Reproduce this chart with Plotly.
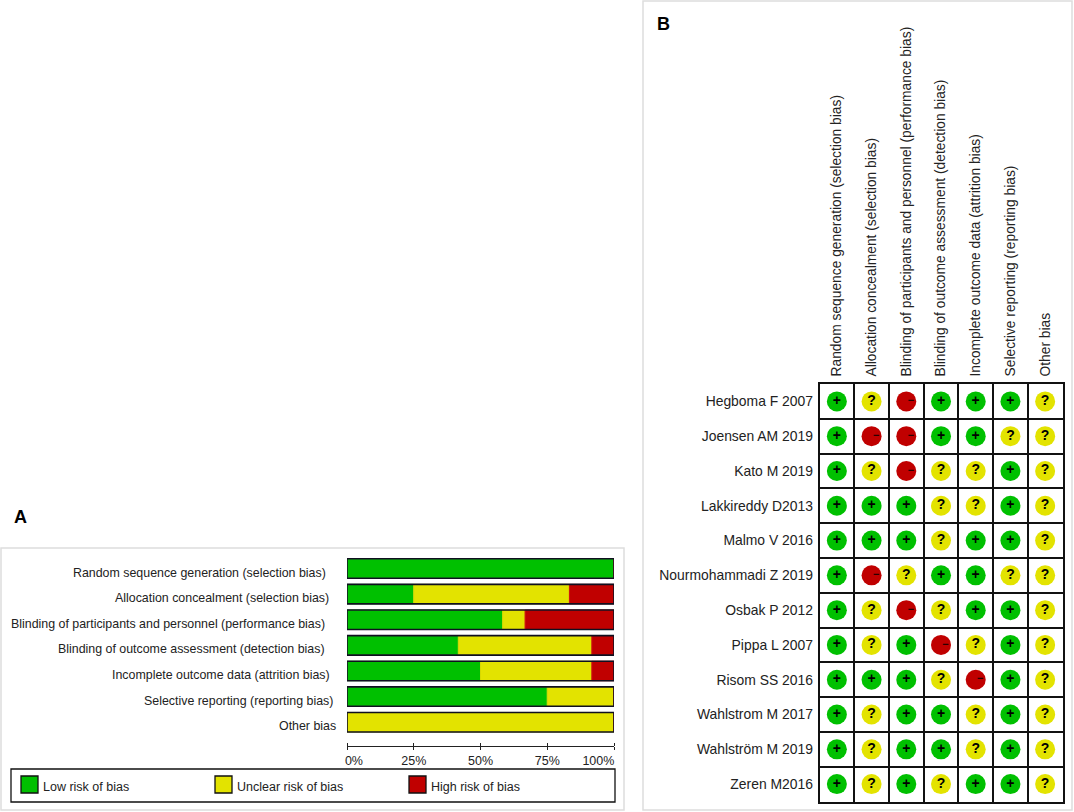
import plotly.graph_objects as go

W, H = 1074, 812
domains = ["Random sequence generation (selection bias)",
           "Allocation concealment (selection bias)",
           "Blinding of participants and personnel (performance bias)",
           "Blinding of outcome assessment (detection bias)",
           "Incomplete outcome data (attrition bias)",
           "Selective reporting (reporting bias)",
           "Other bias"]
matrix_domains = ["Random sequence generation (selection bias)",
                  "Allocation concealment (selection bias)",
                  "Blinding of participants and personnel (performance bias)",
                  "Blinding of outcome assessment (detection bias)",
                  "Incomplete outcome data (attrition bias)",
                  "Selective reporting (reporting bias)",
                  "Other bias"]
low = [100, 25, 58.3, 41.7, 50, 75, 0]
unclear = [0, 58.3, 8.4, 50, 41.7, 25, 100]
high = [0, 16.7, 33.3, 8.3, 8.3, 0, 0]
x_ticks = [0, 25, 50, 75, 100]
x_labels = ["\u00a0\u00a0\u00a0\u00a00%", "25%", "50%", "75%",
            "100%\u00a0\u00a0\u00a0\u00a0\u00a0\u00a0\u00a0\u00a0\u00a0"]
studies = ["Hegboma F 2007", "Joensen AM 2019", "Kato M 2019", "Lakkireddy D2013",
           "Malmo V 2016", "Nourmohammadi Z 2019", "Osbak P 2012", "Pippa L 2007",
           "Risom SS 2016", "Wahlstrom M 2017", "Wahlström M 2019", "Zeren M2016"]
ratings = ["+?-+++?",
           "+--++??",
           "+?-??+?",
           "+++??+?",
           "+++?++?",
           "+-?++??",
           "+?-?++?",
           "+?+-?+?",
           "+++?-+?",
           "+?++?+?",
           "+?++?+?",
           "+?+?++?"]
legend_names = ["Low risk of bias", "Unclear risk of bias", "High risk of bias"]

GREEN, YELLOW, RED = "#00C000", "#E3E300", "#C00000"
FONT = "Liberation Sans"
px = lambda v: v / W
py = lambda v: 1 - v / H

fig = go.Figure()

base = [0] * len(domains)
for vals, col, edge, name in [(low, GREEN, "#33CC33", legend_names[0]),
                              (unclear, YELLOW, "#D8D800", legend_names[1]),
                              (high, RED, "#D01010", legend_names[2])]:
    fig.add_trace(go.Bar(y=domains, x=vals, base=base, orientation="h", name=name,
                         marker=dict(color=col, line=dict(color=edge, width=1)),
                         width=0.76, showlegend=False, xaxis="x", yaxis="y"))
    base = [b + v for b, v in zip(base, vals)]
fig.add_trace(go.Bar(y=domains, x=base, orientation="h", width=0.76, showlegend=False,
                     marker=dict(color="rgba(0,0,0,0)", line=dict(color="#101020", width=1.6)),
                     hoverinfo="skip", xaxis="x", yaxis="y"))

meta = {"+": (GREEN, "<b>+</b>", "black", 14, "Low"),
        "?": (YELLOW, "<b>?</b>", "black", 14, "Unclear"),
        "-": (RED, "\u00a0\u00a0\u00a0<b>−</b>", "#2a0000", 11, "High")}
for key, (col, txt, tcol, tsize, nm) in meta.items():
    xs, ys = [], []
    for r, row in enumerate(ratings):
        for c, ch in enumerate(row):
            if ch == key:
                xs.append(c)
                ys.append(r)
    fig.add_trace(go.Scatter(x=xs, y=ys, mode="markers+text", name=nm, showlegend=False,
                             text=[txt] * len(xs), textposition="middle center",
                             textfont=dict(family=FONT, size=tsize, color=tcol),
                             marker=dict(size=20, color=col, line=dict(width=0)),
                             xaxis="x2", yaxis="y2"))

shapes = [
    dict(type="rect", xref="paper", yref="paper", x0=px(1), x1=px(624), y0=py(548), y1=py(810),
         line=dict(color="#DDDDDD", width=1.5), layer="below"),
    dict(type="rect", xref="paper", yref="paper", x0=px(643), x1=px(1072), y0=py(1), y1=py(810),
         line=dict(color="#DDDDDD", width=1.5), layer="below"),
    dict(type="rect", xref="paper", yref="paper", x0=px(11), x1=px(615), y0=py(769), y1=py(802),
         line=dict(color="#111111", width=1.3)),
]
annotations = [
    dict(text="<b>A</b>", xref="paper", yref="paper", x=px(12), y=py(517), showarrow=False,
         xanchor="left", yanchor="middle", font=dict(family=FONT, size=18, color="black")),
    dict(text="<b>B</b>", xref="paper", yref="paper", x=px(655), y=py(24), showarrow=False,
         xanchor="left", yanchor="middle", font=dict(family=FONT, size=18, color="black")),
]
for sx, name, col in zip([21, 215, 409], legend_names, [GREEN, YELLOW, RED]):
    shapes.append(dict(type="rect", xref="paper", yref="paper", x0=px(sx), x1=px(sx + 17),
                       y0=py(776), y1=py(793), fillcolor=col, line=dict(color="#111111", width=1.3)))
    annotations.append(dict(text=name, xref="paper", yref="paper", x=px(sx + 20), y=py(787),
                            showarrow=False, xanchor="left", yanchor="middle",
                            font=dict(family=FONT, size=12.5, color="#222222")))
# row labels of panel A sit a little off the bars, each with its own right edge
for name, shift in zip(domains, [-19, -16, -20, -20, -15, -12, -9]):
    annotations.append(dict(text=name, xref="x", yref="y", x=0, y=name, xshift=shift, yshift=-4,
                            showarrow=False, xanchor="right", yanchor="middle",
                            font=dict(family=FONT, size=12.4, color="#222222")))

edges = [i - 0.5 for i in range(0, 8)]
yedges = [i - 0.5 for i in range(0, 13)]
fig.update_layout(
    width=W, height=H, margin=dict(l=0, r=0, t=0, b=0), autosize=False,
    paper_bgcolor="white", plot_bgcolor="white", barmode="overlay", showlegend=False,
    shapes=shapes, annotations=annotations, font=dict(family=FONT, color="#222222"),
    xaxis=dict(domain=[px(347), px(614)], range=[0, 100], tickvals=x_ticks, ticktext=x_labels,
               ticks="outside", ticklen=3, tickwidth=1, tickcolor="#222222", showline=True,
               linecolor="#222222", linewidth=1, showgrid=False, zeroline=False, automargin=False,
               anchor="free", position=py(746), side="bottom", tickfont=dict(size=12.5),
               minor=dict(tickvals=x_ticks, ticks="inside", ticklen=3, tickwidth=1, tickcolor="#222222",
                          showgrid=False)),
    yaxis=dict(domain=[py(735), py(555.5)], autorange="reversed", showgrid=False, zeroline=False,
               automargin=False, anchor="x", ticks="", showline=False, showticklabels=False),
    xaxis2=dict(domain=[px(819.5), px(1062.5)], range=[-0.5, 6.5], tickvals=list(range(7)),
                ticktext=matrix_domains, side="top", tickangle=-90, anchor="y2", automargin=False,
                tickfont=dict(size=13.8, color="#222222"), ticks="", showgrid=False,
                zeroline=False, showline=True, mirror=True, linecolor="#111111", linewidth=1.5,
                minor=dict(tickvals=edges, showgrid=True, gridcolor="#111111", gridwidth=1.5, ticks=""),
                ticklabelstandoff=3),
    yaxis2=dict(domain=[py(801.5), py(384)], range=[11.5, -0.5], tickvals=list(range(12)),
                ticktext=studies, anchor="x2", tickfont=dict(size=13.9, color="#222222"), ticks="",
                showgrid=False, zeroline=False, showline=True, mirror=True, linecolor="#111111",
                linewidth=1.5, automargin=False,
                minor=dict(tickvals=yedges, showgrid=True, gridcolor="#111111", gridwidth=1.5, ticks=""),
                ticklabelstandoff=2),
)
fig.write_html("out.html", config={"displayModeBar": False},
               post_script="document.body.style.margin='0';")
